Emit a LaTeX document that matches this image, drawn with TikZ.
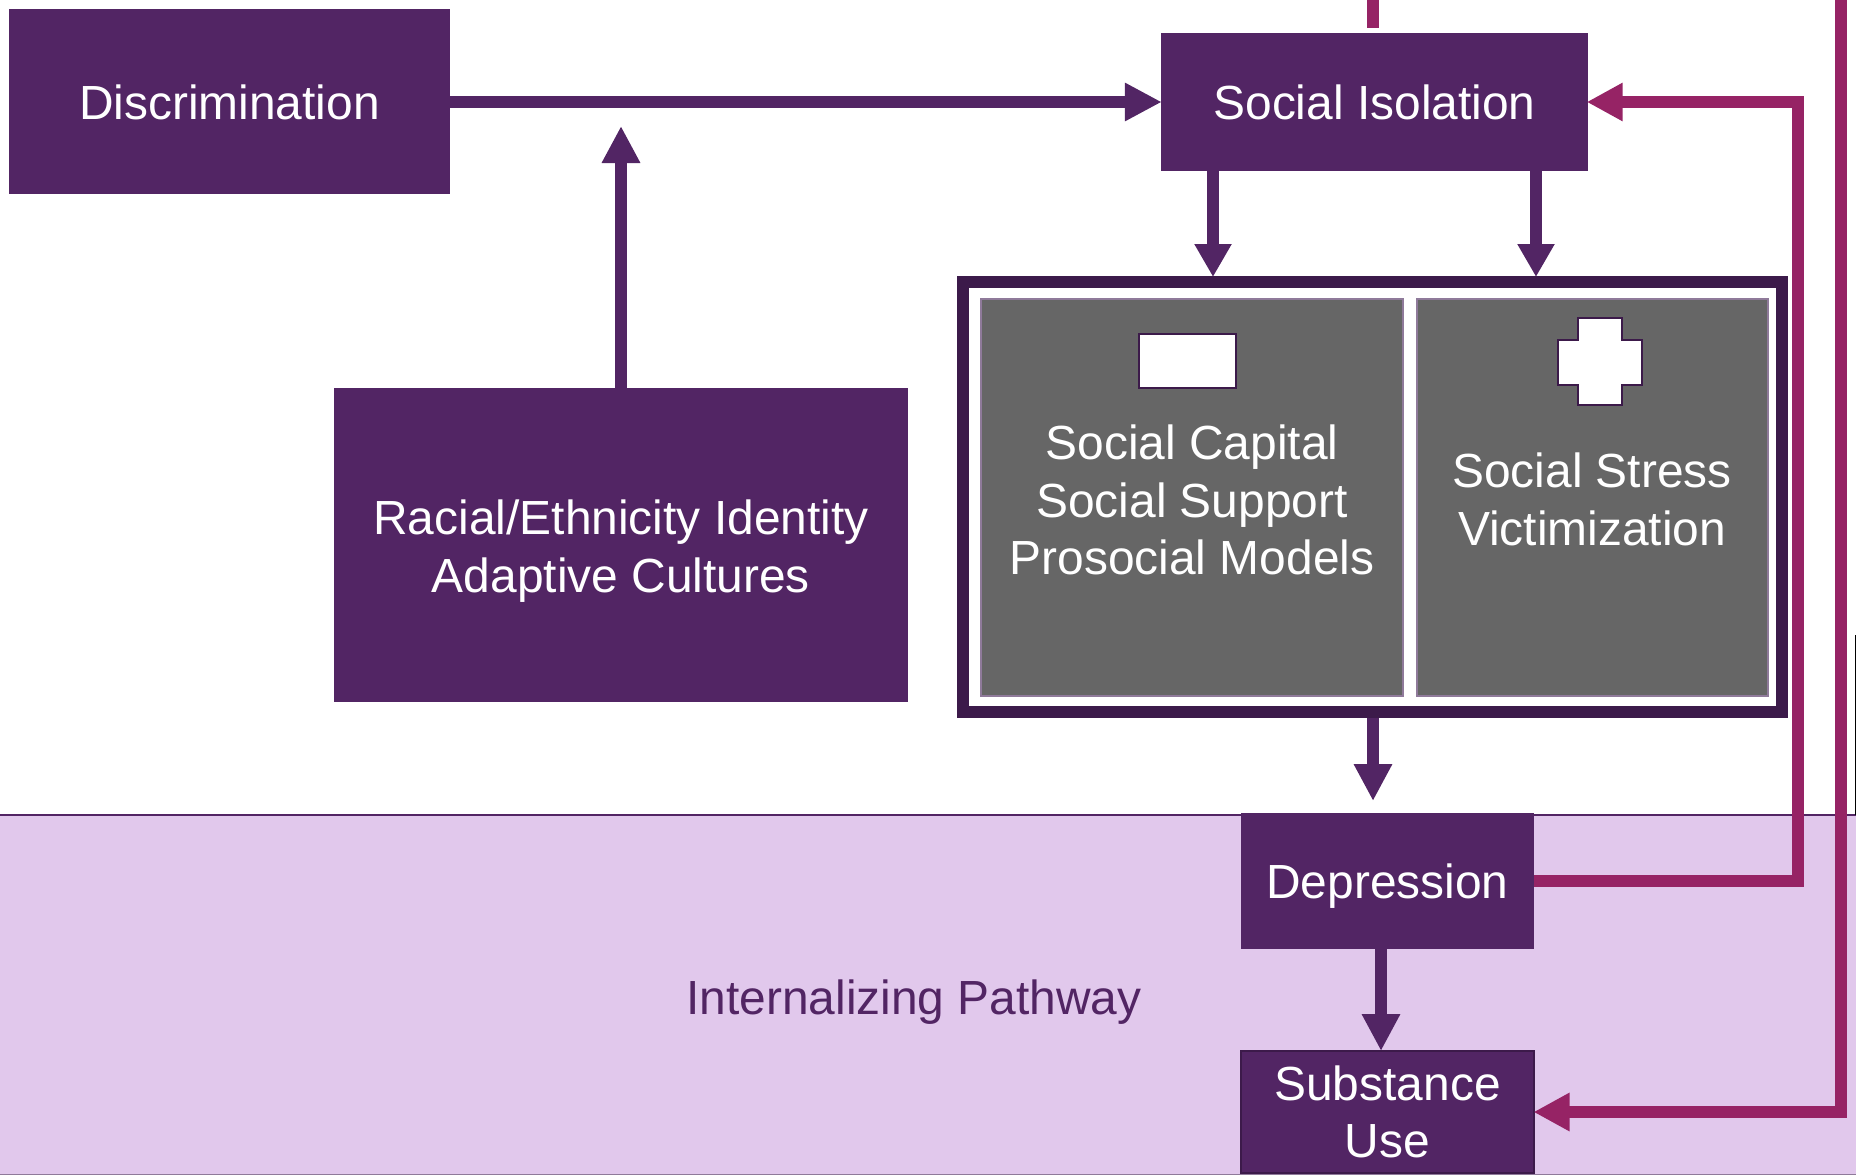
\documentclass[tikz,border=0pt]{standalone}
\usepackage{fontspec}
\setmainfont{Liberation Sans}
\usetikzlibrary{arrows.meta}
\definecolor{plum}{HTML}{522564}
\definecolor{darkplum}{HTML}{3C1A4A}
\definecolor{berry}{HTML}{962365}
\definecolor{lilac}{HTML}{E1C8EC}
\definecolor{slate}{HTML}{666666}
\definecolor{slateline}{HTML}{8F7A9A}
\tikzset{
  labeltext/.style={font=\fontsize{47.9}{57.6}\selectfont,align=center,inner sep=0pt},
  plumbox/.style={fill=plum,text=white,inner sep=0pt,labeltext},
  graybox/.style={fill=slate,draw=slateline,line width=2pt},
  iconshape/.style={fill=white,draw=darkplum,line width=2pt},
  plumline/.style={draw=plum,line width=12pt},
  berryline/.style={draw=berry,line width=12pt},
  plumarrow/.style={plumline,shorten >=-1pt,-{Triangle[length=37pt,width=36pt]}},
  plumshort/.style={plumline,shorten >=-1pt,-{Triangle[length=33pt,width=35pt]}},
  berryarrow/.style={berryline,shorten >=-1.5pt,-{Triangle[length=36pt,width=36pt]}}
}
\begin{document}
\begin{tikzpicture}[x=1pt,y=-1pt]
	\useasboundingbox (0,0) rectangle (1856,1175);
	%band
	\fill[lilac] (0,815) rectangle (1856,1175);
	\draw[plum,line width=2pt] (0,815)--(1856,815);
	\draw[slateline,line width=1.5pt] (0,1174.5)--(1856,1174.5);
	\draw[black,line width=1pt] (1855,635)--(1855,815);
	\node[labeltext,text=plum] (path) at (914,1002) {Internalizing Pathway};
	%boxes
	\node[plumbox,minimum width=441pt,minimum height=185pt] (disc) at (229.5,101) {};
	\node[labeltext,text=white] (disctext) at (229.5,102) {Discrimination};
	\node[plumbox,minimum width=427pt,minimum height=138pt] (isol) at (1374.5,102) {Social Isolation};
	\node[plumbox,minimum width=574pt,minimum height=314pt] (race) at (621,545) {};
	\node[labeltext,text=white] (racetext) at (621,551) {Racial/Ethnicity Identity\\Adaptive Cultures};
	\node[plumbox,minimum width=293pt,minimum height=136pt] (depr) at (1387.5,881) {};
	\node[labeltext,text=white] (deprtext) at (1387.5,886) {Depression};
	\node[plumbox,draw=darkplum,line width=2pt,minimum width=293pt,minimum height=122pt] (subs) at (1387.5,1112) {Substance\\Use};
	%frame with the two panels
	\node[fill=white,draw=darkplum,line width=12pt,minimum width=819pt,minimum height=430pt] (frame) at (1372.5,497) {};
	\node[graybox,minimum width=422pt,minimum height=397pt] (capital) at (1192,497.5) {};
	\node[graybox,minimum width=351pt,minimum height=397pt] (stress) at (1592,497.5) {};
	\node[labeltext,text=white] (capitaltext) at (1192,500) {Social Capital\\Social Support\\Prosocial Models};
	\node[labeltext,text=white] (stresstext) at (1592,499.5) {Social Stress\\Victimization};
	\node[iconshape,minimum width=97pt,minimum height=54pt,inner sep=0pt] (icon) at (1187,361) {};
	\draw[iconshape] (1578,318)--(1622,318)--(1622,340)--(1642,340)--(1642,385)--(1622,385)--(1622,405)--(1578,405)--(1578,385)--(1558,385)--(1558,340)--(1578,340)--cycle;
	%free ends
	\coordinate (raceend) at (621,127);
	\coordinate (capin) at (1213,276);
	\coordinate (stressin) at (1536,276);
	\coordinate (deprin) at (1373,800);
	\coordinate (subsin) at (1381,1050);
	\coordinate (stubtop) at (1373,0);
	\coordinate (stubend) at (1373,28);
	\coordinate (backturn) at (1798,102);
	\coordinate (longtop) at (1841,0);
	\coordinate (longturn) at (1841,1112);
	%purple arrows
	\draw[plumarrow] (disc.east|-isol.west)--(isol.west);
	\draw[plumarrow] (race.north)--(raceend);
	\draw[plumshort] (capin|-isol.south)--(capin);
	\draw[plumshort] (stressin|-isol.south)--(stressin);
	\draw[plumarrow] (deprin|-frame.south)--(deprin);
	\draw[plumarrow] (subsin|-depr.south)--(subsin);
	%feedback lines
	\draw[berryline] (stubtop)--(stubend);
	\draw[berryarrow] (depr.east)-|(backturn)--(isol.east);
	\draw[berryarrow] (longtop)--(longturn)--(subs.east);
\end{tikzpicture}
\end{document}
